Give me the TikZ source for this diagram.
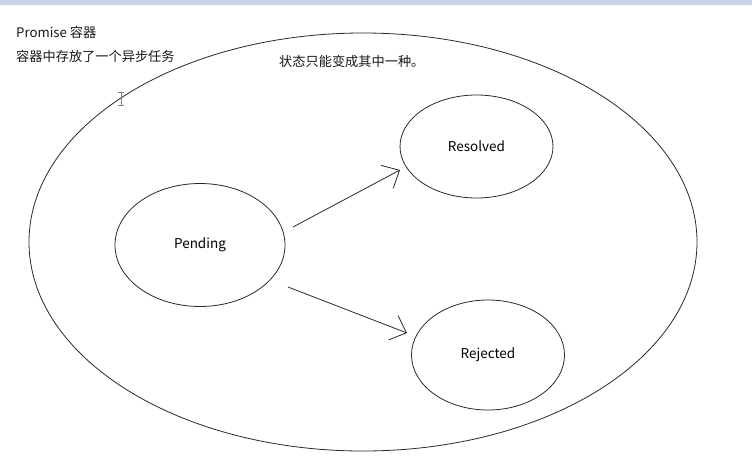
\documentclass[tikz,border=0pt]{standalone}
\usepackage{fontspec}
\setmainfont{Noto Sans CJK SC}
\usetikzlibrary{shapes.geometric,arrows.meta}
\definecolor{barcol}{HTML}{C9D2E2}
\definecolor{linecol}{HTML}{2A2A2A}
\begin{document}
\begin{tikzpicture}[x=1pt,y=-1pt,
  state/.style={ellipse,draw=linecol,line width=0.8pt,inner sep=0pt,font=\fontsize{13.5}{15}\selectfont},
  label/.style={anchor=base west,inner sep=0pt,font=\fontsize{13.2}{15}\selectfont,text=black!90},
  trans/.style={draw=linecol,line width=0.8pt,-{Straight Barb[length=14pt,width=26pt,line width=0.8pt]}}]
\useasboundingbox (0,0) rectangle (752,466);
\fill[white] (0,0) rectangle (752,466);
\fill[barcol] (0,0) rectangle (752,5);
% container
\node[ellipse,draw=linecol,line width=0.8pt,minimum width=668pt,minimum height=418pt,inner sep=0pt] (container) at (363,242) {};
% states
\node[state,minimum width=170pt,minimum height=123pt] (pending) at (200,245) {Pending};
\node[state,minimum width=153pt,minimum height=103pt] (resolved) at (476.5,146.5) {Resolved};
\node[state,minimum width=153pt,minimum height=110pt] (rejected) at (488,355) {Rejected};
% texts
\node[label] (t1) at (16,37) {Promise 容器};
\node[label] (t2) at (16,61) {容器中存放了一个异步任务};
\node[label] (t3) at (279,66) {状态只能变成其中一种。};
% arrows
\coordinate (a1s) at (293,227);
\coordinate (a1e) at (400,170);
\coordinate (a2s) at (288,287);
\coordinate (a2e) at (407,333);
\draw[trans] (a1s) -- (a1e);
\draw[trans] (a2s) -- (a2e);
% mouse cursor (I-beam)
\draw[gray,line width=0.9pt] (121,93) -- (121,105) (118,92.5) -- (124,92.5) (118,105.5) -- (124,105.5);
\end{tikzpicture}
\end{document}
